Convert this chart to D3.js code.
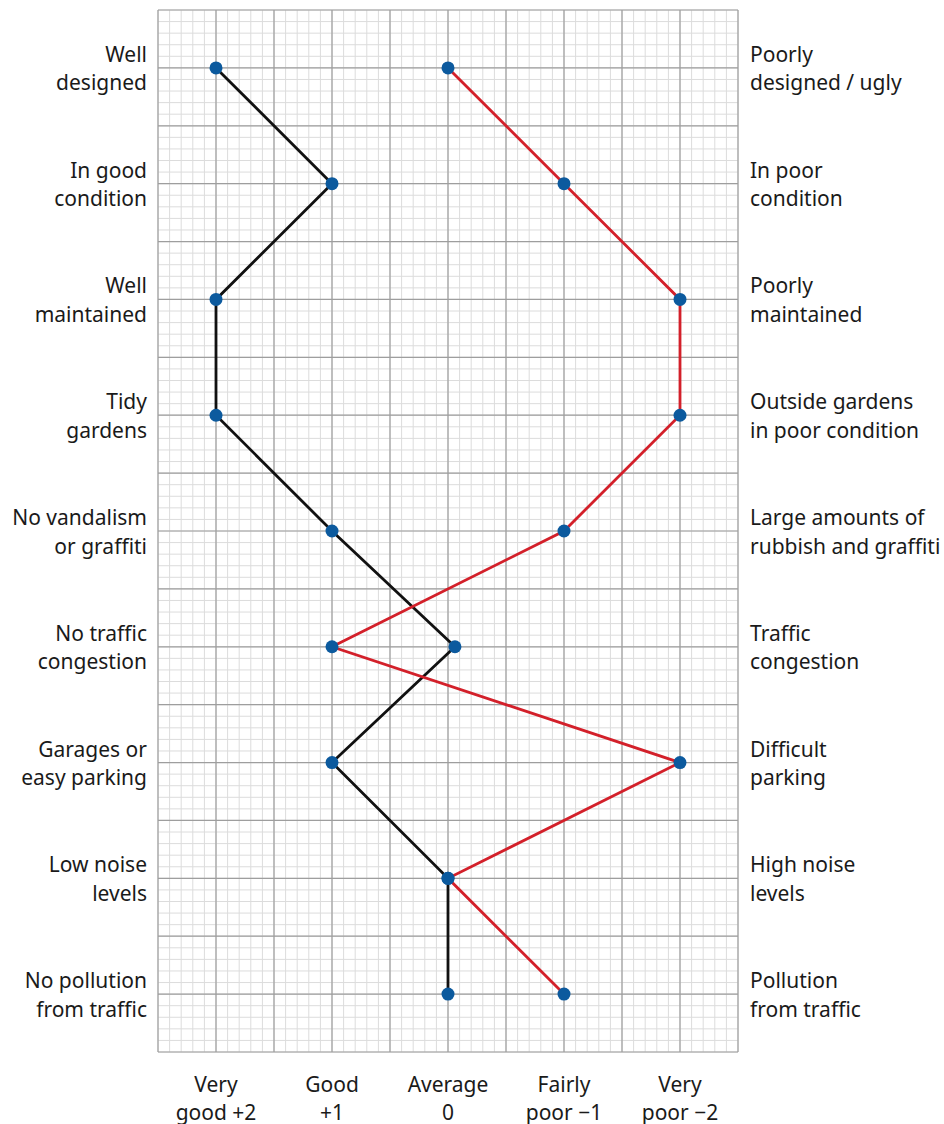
<!DOCTYPE html>
<html>
<head>
<meta charset="utf-8">
<script src="https://cdn.jsdelivr.net/npm/d3@7"></script>
<style>
  body { margin: 0; background: #fff; }
  text { font-family: "Noto Sans", sans-serif; fill: #1a1a1a; }
</style>
</head>
<body>
<div id="container"></div>
<script>
/* DATA */
const goodLabels = [
  ["Well", "designed"], ["In good", "condition"], ["Well", "maintained"],
  ["Tidy", "gardens"], ["No vandalism", "or graffiti"], ["No traffic", "congestion"],
  ["Garages or", "easy parking"], ["Low noise", "levels"], ["No pollution", "from traffic"]
];
const poorLabels = [
  ["Poorly", "designed / ugly"], ["In poor", "condition"], ["Poorly", "maintained"],
  ["Outside gardens", "in poor condition"], ["Large amounts of", "rubbish and graffiti"],
  ["Traffic", "congestion"], ["Difficult", "parking"], ["High noise", "levels"],
  ["Pollution", "from traffic"]
];
const scoreTicks = [2, 1, 0, -1, -2];
const scoreLabels = [["Very", "good +2"], ["Good", "+1"], ["Average", "0"], ["Fairly", "poor \u22121"], ["Very", "poor \u22122"]];
const blackScores = [2, 1, 2, 2, 1, -0.06, 1, 0, 0];
const redScores = [0, -1, -2, -2, -1, 1, -2, 0, -1];

/* CONSTANTS */
const width = 944, height = 1124;
const plot = { left: 158, right: 738, top: 10, bottom: 1052 };

const svg = d3.select("#container").append("svg")
  .attr("width", width)
  .attr("height", height);

// scales
const xScale = d3.scaleLinear().domain([2.5, -2.5]).range([plot.left, plot.right]);
const yScale = d3.scaleLinear().domain([-0.5, 8.5]).range([plot.top, plot.bottom]);

// grid - minor then major
const minorX = d3.range(-25, 26).map(d => d / 10);
const minorY = d3.range(-5, 86).map(d => d / 10);
const majorX = d3.range(-5, 6).map(d => d / 2);
const majorY = d3.range(-1, 18).map(d => d / 2);

const grid = svg.append("g");
grid.selectAll(".minx").data(minorX).join("line")
  .attr("x1", d => xScale(d)).attr("x2", d => xScale(d))
  .attr("y1", plot.top).attr("y2", plot.bottom)
  .attr("stroke", "#dcdcdc").attr("stroke-width", 1);
grid.selectAll(".miny").data(minorY).join("line")
  .attr("y1", d => yScale(d)).attr("y2", d => yScale(d))
  .attr("x1", plot.left).attr("x2", plot.right)
  .attr("stroke", "#dcdcdc").attr("stroke-width", 1);

const gridMajor = svg.append("g");
gridMajor.selectAll("line.mx").data(majorX).join("line")
  .attr("x1", d => xScale(d)).attr("x2", d => xScale(d))
  .attr("y1", plot.top).attr("y2", plot.bottom)
  .attr("stroke", "#9e9e9e").attr("stroke-width", 1.2);
gridMajor.selectAll("line.my").data(majorY).join("line")
  .attr("y1", d => yScale(d)).attr("y2", d => yScale(d))
  .attr("x1", plot.left).attr("x2", plot.right)
  .attr("stroke", "#9e9e9e").attr("stroke-width", 1.2);

// lines
const line = d3.line()
  .x(d => xScale(d[1]))
  .y(d => yScale(d[0]));

svg.append("path")
  .datum(blackScores.map((v, i) => [i, v]))
  .attr("d", line)
  .attr("fill", "none")
  .attr("stroke", "#111")
  .attr("stroke-width", 2.8);

svg.append("path")
  .datum(redScores.map((v, i) => [i, v]))
  .attr("d", line)
  .attr("fill", "none")
  .attr("stroke", "#d3202a")
  .attr("stroke-width", 2.8);

// points
const pts = blackScores.map((v, i) => [i, v]).concat(redScores.map((v, i) => [i, v]));
svg.selectAll("circle").data(pts).join("circle")
  .attr("cx", d => xScale(d[1]))
  .attr("cy", d => yScale(d[0]))
  .attr("r", 6.5)
  .attr("fill", "#0c5a9e");

// left labels
const fs = 21;
const left = svg.append("g").attr("text-anchor", "end").style("font-size", fs + "px");
goodLabels.forEach((lab, i) => {
  const t = left.append("text").attr("x", 147).attr("y", yScale(i) - 6);
  t.append("tspan").attr("x", 147).text(lab[0]);
  t.append("tspan").attr("x", 147).attr("dy", 28.5).text(lab[1]);
});

const right = svg.append("g").attr("text-anchor", "start").style("font-size", fs + "px");
poorLabels.forEach((lab, i) => {
  const t = right.append("text").attr("x", 750).attr("y", yScale(i) - 6);
  t.append("tspan").attr("x", 750).text(lab[0]);
  t.append("tspan").attr("x", 750).attr("dy", 28.5).text(lab[1]);
});

// bottom labels
const bottom = svg.append("g").attr("text-anchor", "middle").style("font-size", fs + "px");
scoreTicks.forEach((v, i) => {
  const t = bottom.append("text").attr("x", xScale(v)).attr("y", 1092);
  t.append("tspan").attr("x", xScale(v)).text(scoreLabels[i][0]);
  t.append("tspan").attr("x", xScale(v)).attr("dy", 27.5).text(scoreLabels[i][1]);
});
</script>
</body>
</html>
